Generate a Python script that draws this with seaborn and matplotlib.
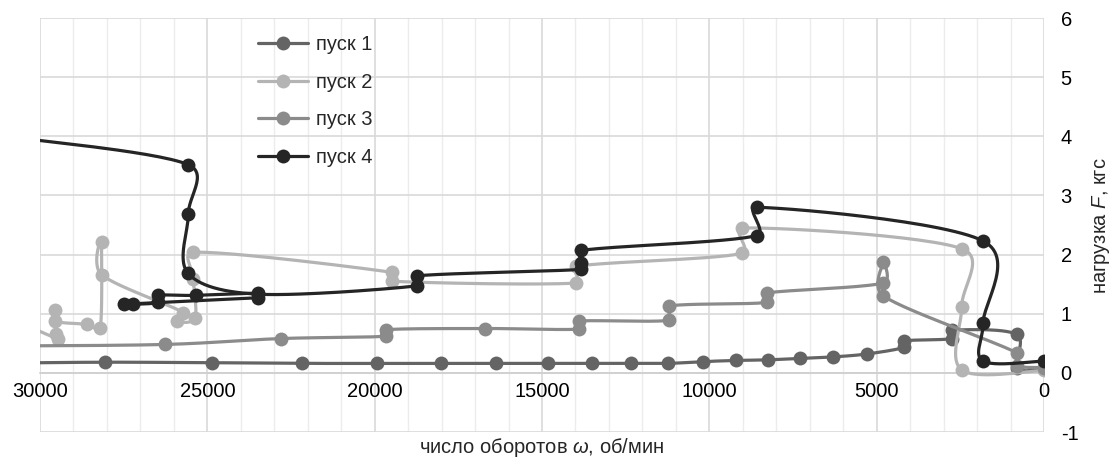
import numpy as np
import pandas as pd
import matplotlib
matplotlib.use("Agg")
import matplotlib.pyplot as plt
from matplotlib.lines import Line2D
from matplotlib.ticker import MultipleLocator, FixedLocator
import seaborn as sns

# ---- data: rotational speed (rpm) and load (kgf) for each run, in recorded order ----
series_names = ["пуск 1", "пуск 2", "пуск 3", "пуск 4"]

rpm_1 = [32000, 28060, 24870, 22180, 19920, 18030, 16360, 14830, 13520, 12340,
         11230, 10200, 9200, 8260, 7290, 6300, 5280, 4190, 4190, 2740, 2740,
         820, 820, 0]
load_1 = [0.16, 0.18, 0.17, 0.16, 0.16, 0.16, 0.16, 0.16, 0.16, 0.16,
          0.16, 0.19, 0.21, 0.22, 0.245, 0.27, 0.32, 0.43, 0.54, 0.58, 0.72,
          0.65, 0.08, 0.07]

rpm_2 = [31000, 29450, 29530, 29550, 29550, 28600, 28200, 28160, 28160,
         25720, 25920, 25370, 25420, 25420, 19490, 19490, 13970, 13970,
         9030, 9030, 2460, 2460, 2460, 0]
load_2 = [0.95, 0.57, 0.65, 1.07, 0.875, 0.82, 0.76, 2.21, 1.66,
          1.02, 0.875, 0.93, 1.58, 2.04, 1.70, 1.55, 1.52, 1.80,
          2.02, 2.45, 2.10, 1.12, 0.05, 0.04]

rpm_3 = [31000, 26270, 22810, 19660, 19660, 16700, 13900, 13900, 11200, 11200,
         8290, 8290, 4800, 4800, 4800, 820, 820, 0]
load_3 = [0.455, 0.48, 0.58, 0.62, 0.73, 0.75, 0.74, 0.875, 0.89, 1.13,
          1.19, 1.35, 1.52, 1.87, 1.30, 0.34, 0.12, 0.09]

rpm_4 = [31000, 25570, 25570, 25570, 23480, 18750, 18750, 13820, 13820, 13820,
         8590, 8590, 1820, 1820, 1820, 0]
load_4 = [4.0, 3.52, 2.68, 1.68, 1.33, 1.47, 1.64, 1.75, 1.85, 2.07,
          2.32, 2.80, 2.23, 0.84, 0.20, 0.20]

# short excursion of run 4 between 23.5k and 27.5k rpm
rpm_4b = [23480, 25350, 26470, 26470, 27210, 27490, 23480]
load_4b = [1.35, 1.31, 1.31, 1.19, 1.16, 1.16, 1.27]

x_ticks = [30000, 25000, 20000, 15000, 10000, 5000, 0]
y_ticks = [-1, 0, 1, 2, 3, 4, 5, 6]

colors = ["#646464", "#b4b4b4", "#8b8b8b", "#252525"]

# ---- style ----
sns.set_theme(style="white")
plt.rcParams["font.family"] = ["Liberation Sans", "DejaVu Sans"]
plt.rcParams["mathtext.fontset"] = "custom"
plt.rcParams["mathtext.rm"] = "Liberation Sans"
plt.rcParams["mathtext.it"] = "Liberation Sans:italic"
FS = 14.5

fig = plt.figure(figsize=(11.15, 4.59), dpi=100)
ax = fig.add_axes([40 / 1115, 1 - 432 / 459, 1004 / 1115, 414 / 459])
ax.set_xlim(30000, 0)
ax.set_ylim(-1, 6)


def smooth(xs, ys, n=30, tension=1 / 6, clamp=0.45):
    """Bezier smoothing through the points, computed in display space."""
    pts = ax.transData.transform(np.column_stack([xs, ys]).astype(float))
    m = len(pts)
    out = [pts[0]]
    t = np.linspace(0, 1, n)[1:, None]

    def limit(v, d):
        L = np.hypot(*v)
        if L > clamp * d and L > 0:
            v = v * (clamp * d / L)
        return v

    for i in range(m - 1):
        p1, p2 = pts[i], pts[i + 1]
        p0 = pts[i - 1] if i > 0 else p1
        p3 = pts[i + 2] if i + 2 < m else p2
        d12 = np.hypot(*(p2 - p1))
        if d12 < 1e-9:
            continue
        c1 = p1 + limit((p2 - p0) * tension, d12)
        c2 = p2 - limit((p3 - p1) * tension, d12)
        seg = ((1 - t) ** 3) * p1 + 3 * ((1 - t) ** 2) * t * c1 \
            + 3 * (1 - t) * t ** 2 * c2 + t ** 3 * p2
        out.extend(seg)
    return ax.transData.inverted().transform(np.array(out))


runs = [
    [(rpm_1, load_1)],
    [(rpm_2, load_2)],
    [(rpm_3, load_3)],
    [(rpm_4b, load_4b), (rpm_4, load_4)],
]

LW = 2.3
MS = 10

for k, (name, parts) in enumerate(zip(series_names, runs)):
    for xs, ys in parts:
        curve = smooth(xs, ys)
        df_line = pd.DataFrame({"rpm": curve[:, 0], "load": curve[:, 1]})
        sns.lineplot(data=df_line, x="rpm", y="load", sort=False, estimator=None,
                     color=colors[k], lw=LW, ax=ax, zorder=3 + 2 * k)
        df_pts = pd.DataFrame({"rpm": xs, "load": ys})
        sns.scatterplot(data=df_pts, x="rpm", y="load", color=colors[k], s=MS ** 2,
                        linewidth=0, ax=ax, zorder=4 + 2 * k, legend=False)

# ---- axes, grid ----
ax.xaxis.set_major_locator(FixedLocator(x_ticks))
ax.xaxis.set_minor_locator(MultipleLocator(1000))
ax.yaxis.set_major_locator(FixedLocator(y_ticks))
ax.set_xticklabels([str(v) for v in x_ticks])
ax.set_yticklabels([str(v) for v in y_ticks])
ax.set_axisbelow(True)
ax.grid(which="major", axis="both", color="#d9d9d9", lw=1.2, zorder=0)
ax.grid(which="minor", axis="x", color="#ececec", lw=1.0, zorder=0)

for s in ["top", "left", "right"]:
    ax.spines[s].set_visible(False)
ax.spines["bottom"].set_position(("data", 0))
ax.spines["bottom"].set_color("#cfcfcf")
ax.spines["bottom"].set_linewidth(1.2)

ax.yaxis.tick_right()
ax.tick_params(axis="x", which="both", length=0, pad=6.5, labelsize=FS, colors="black")
ax.tick_params(axis="y", which="both", length=0, pad=12, labelsize=FS, colors="black")

ax.set_xlabel("число оборотов $\\mathit{ω}$, об/мин", fontsize=FS)
ax.xaxis.set_label_coords(0.5, -0.038)
ax.xaxis.label.set_va("center")
ax.yaxis.set_label_position("right")
ax.set_ylabel("нагрузка $\\mathit{F}$, кгс", fontsize=FS, rotation=90)
ax.yaxis.set_label_coords(1.0568, 0.4976)
ax.yaxis.label.set_va("center")
ax.yaxis.label.set_ha("center")

# ---- legend ----
handles = [Line2D([0], [0], color=c, lw=LW, marker="o", markersize=MS,
                  markeredgewidth=0) for c in colors]
fig.legend(handles, series_names, loc="upper left",
           bbox_to_anchor=(258 / 1115, 1 - 35 / 459), frameon=False,
           fontsize=FS, handlelength=2.5, handletextpad=0.4,
           labelspacing=0.93, borderpad=0, borderaxespad=0)

fig.savefig("out.png", dpi=100)
